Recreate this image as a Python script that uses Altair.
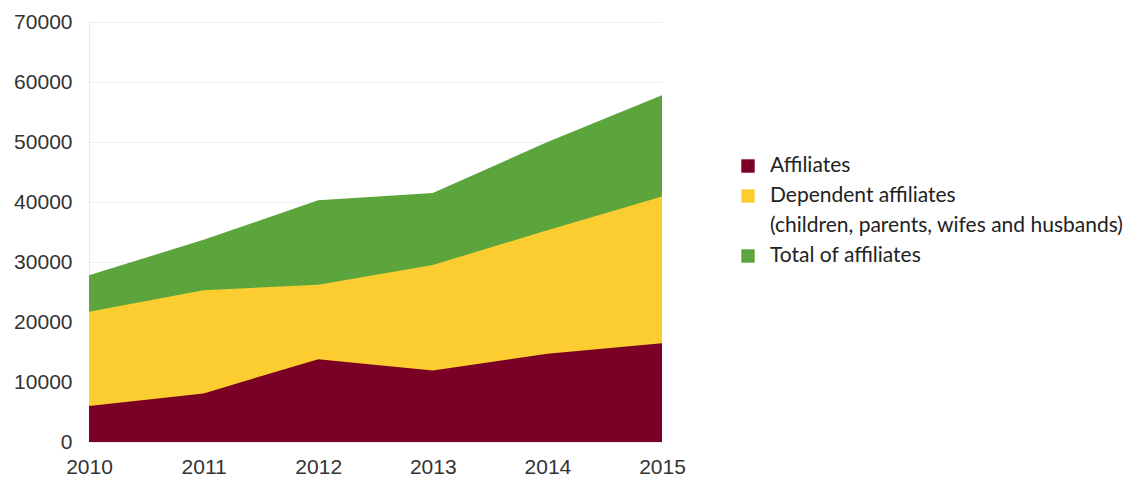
import altair as alt
import pandas as pd

years = [2010, 2011, 2012, 2013, 2014, 2015]
affiliates = [6000, 8100, 13800, 11900, 14700, 16450]
dependents = [21700, 25300, 26200, 29500, 35300, 40900]
total = [27800, 33700, 40300, 41500, 50000, 57800]

series_names = ["Affiliates", "Dependent affiliates", "Total of affiliates"]
series_colors = ["#7a0025", "#fbcd30", "#5ba53c"]
legend_labels = ["Affiliates", "Dependent affiliates",
                 "(children, parents, wifes and husbands)", "Total of affiliates"]
legend_colors = [series_colors[0], series_colors[1], None, series_colors[2]]

rows = []
for name, vals in zip(series_names, [affiliates, dependents, total]):
    for y, v in zip(years, vals):
        rows.append({"year": y, "value": v, "series": name})
df = pd.DataFrame(rows)

W, H = 573, 420
LEFT, TOP = 81, 14
axis_font = "Liberation Sans"

x_enc = alt.X("year:Q", scale=alt.Scale(domain=[2010, 2015], nice=False),
              axis=alt.Axis(values=years, format="d", title=None, labelFont=axis_font,
                            labelFontSize=21, labelColor="#333333", labelPadding=14,
                            tickSize=0, domain=False, grid=False, labelFlush=False))
y_enc = alt.Y("value:Q", stack=None, scale=alt.Scale(domain=[0, 70000], nice=False),
              axis=alt.Axis(values=list(range(0, 70001, 10000)), format="d", title=None,
                            labelFont=axis_font, labelFontSize=21, labelColor="#333333",
                            labelPadding=17, tickSize=0, domain=True, domainColor="#e8e8e8",
                            grid=True, gridColor="#eeeeee", gridWidth=1))
color_enc = alt.Color("series:N", scale=alt.Scale(domain=series_names, range=series_colors), legend=None)

base = alt.Chart(df)
layers = []
for name in ["Total of affiliates", "Dependent affiliates", "Affiliates"]:
    layers.append(base.transform_filter(alt.datum.series == name)
                  .mark_area(opacity=1, interpolate="linear")
                  .encode(x=x_enc, y=y_enc, color=color_enc))

# manual legend (one row of data per item so nothing is overdrawn)
for i, (label, col) in enumerate(zip(legend_labels, legend_colors)):
    ypix = 144 + 30 * i
    one = alt.Chart(pd.DataFrame({"label": [label]}))
    layers.append(one.mark_text(align="left", baseline="middle", font="Lato",
                                fontSize=21, fontWeight="normal", color="#222222")
                  .encode(x=alt.value(681), y=alt.value(ypix), text="label:N"))
    if col:
        layers.append(one.mark_square(size=180, opacity=1, color=col)
                      .encode(x=alt.value(659), y=alt.value(ypix)))

chart = alt.layer(*layers).properties(
    width=W, height=H, autosize="none",
    padding={"left": LEFT, "top": TOP, "right": 1139 - 16 - LEFT - W, "bottom": 484 - 16 - TOP - H},
).configure(background="white").configure_view(stroke=None)

chart.save("out.html", embed_options={"renderer": "svg", "actions": False})
